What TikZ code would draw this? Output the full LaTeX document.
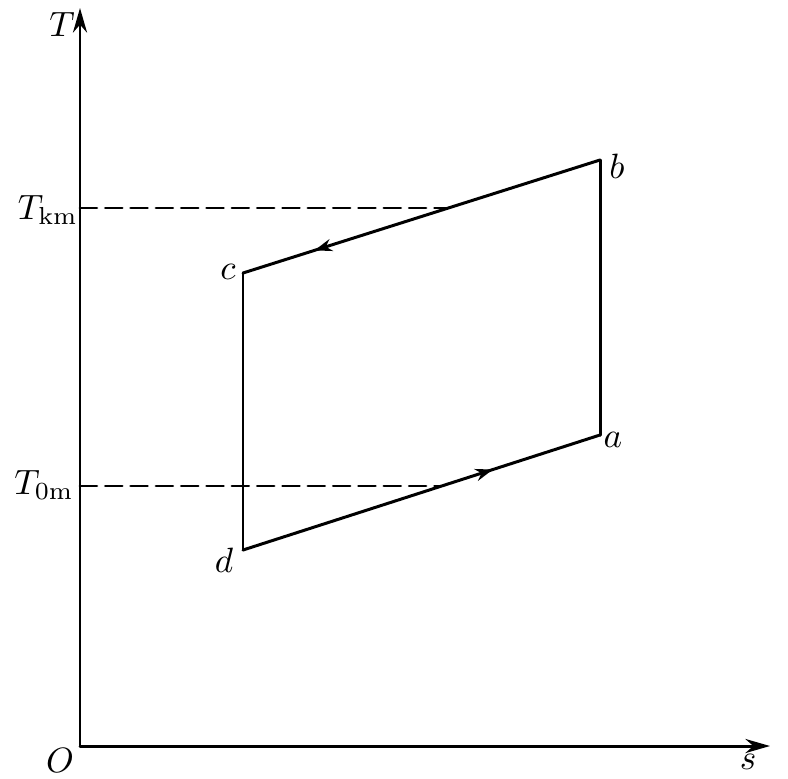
\documentclass[tikz,border=0pt]{standalone}
\usetikzlibrary{arrows.meta,decorations.markings}

\begin{document}
\begin{tikzpicture}[
  x=0.01cm, y=-0.01cm,
  line cap=round, line join=round,
  every node/.style={font=\normalsize, inner sep=1.5pt},
  axis/.style={line width=0.85pt, -{Stealth[length=7pt,width=4pt]}},
  process/.style={line width=0.85pt},
  level/.style={line width=0.8pt, dash pattern=on 4.8pt off 2.4pt},
  flow/.style={postaction={decorate}, decoration={markings,
    mark=at position #1 with {\arrow{Stealth[length=5pt,width=3.5pt]}}}},
]
\useasboundingbox (0,0) rectangle (788,778);
\coordinate (O) at (80,746);
\coordinate (Tend) at (80,8);
\coordinate (send) at (770,746);
\coordinate (a) at (600,435);
\coordinate (b) at (600,160);
\coordinate (c) at (243,273);
\coordinate (d) at (243,550);
\coordinate (km0) at (80,208);
\coordinate (km1) at (448,208);
\coordinate (om0) at (80,486);
\coordinate (om1) at (442,486);
\draw[axis] (O) -- (Tend);
\draw[axis] (O) -- (send);
\draw[level] (km0) -- (km1);
\draw[level] (om0) -- (om1);
\draw[process, flow=0.7] (d) -- (a);
\draw[process] (a) -- (b);
\draw[process, flow=0.8] (b) -- (c);
\draw[process] (c) -- (d);
\node (lT) at (62,24) {$T$};
\node (ls) at (748,762) {$s$};
\node (lO) at (60,760) {$O$};
\node (lkm) at (48,210) {$T_{\mathrm{km}}$};
\node (lom) at (44,485) {$T_{0\mathrm{m}}$};
\node (la) at (613,440) {$a$};
\node (lb) at (617,166) {$b$};
\node (lc) at (228,272) {$c$};
\node (ld) at (224,560) {$d$};
\end{tikzpicture}
\end{document}
